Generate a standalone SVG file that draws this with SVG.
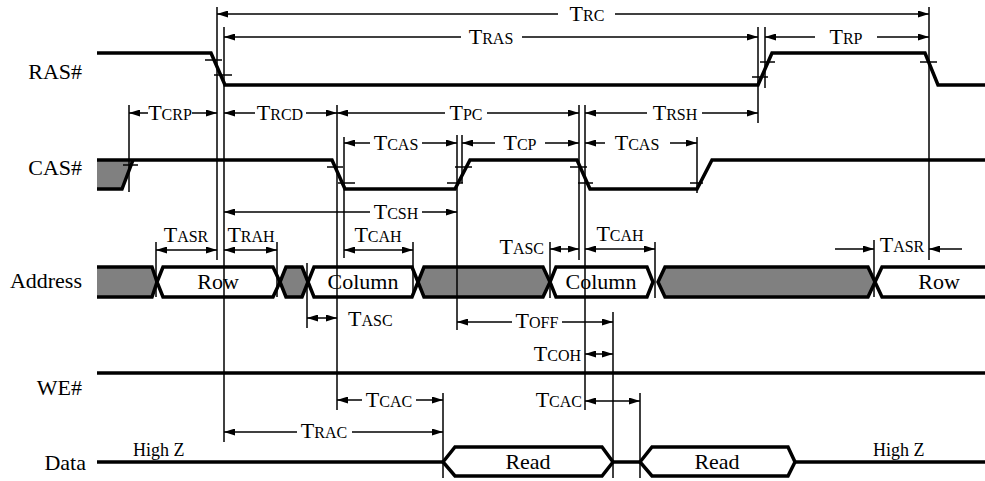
<svg xmlns="http://www.w3.org/2000/svg" width="985" height="481" viewBox="0 0 985 481">
<style>
  .sig{fill:none;stroke:#000;stroke-width:3.5;stroke-linejoin:miter}
  .gray{fill:#808080;stroke:none}
  .hex{fill:#fff;stroke:#000;stroke-width:3.5}
  .ghex{fill:#808080;stroke:#000;stroke-width:3.5}
  .tick{stroke:#000;stroke-width:1.5}
  .ext{stroke:#000;stroke-width:1.5}
  .dim{fill:none;stroke:#000;stroke-width:1.5;marker-end:url(#ah)}
  text{font-family:"Liberation Serif","Times New Roman",serif;fill:#000}
  .lbl{font-size:22px;text-anchor:end}
  .t{font-size:22px}
  .s{font-size:16px}
  .c{text-anchor:middle}
  .e{text-anchor:end}
  .hz{font-size:18px}
</style>
<defs>
  <marker id="ah" viewBox="0 0 11 7" refX="11" refY="3.5" markerWidth="11" markerHeight="7" markerUnits="userSpaceOnUse" orient="auto">
    <path d="M0,0 L11,3.5 L0,7 z" fill="#000"/>
  </marker>
</defs>
<rect width="985" height="481" fill="#fff"/>

<g id="labels">
  <text class="lbl" x="82" y="79">RAS#</text>
  <text class="lbl" x="82" y="175">CAS#</text>
  <text class="lbl" x="82" y="288">Address</text>
  <text class="lbl" x="82" y="395">WE#</text>
  <text class="lbl" x="86" y="470">Data</text>
</g>

<g id="ras">
  <polyline class="sig" points="97,53 211,53 225,85 758,85 772,53 925,53 938,85 985,85"/>
  <line class="tick" x1="205" y1="60" x2="222" y2="60"/>
  <line class="tick" x1="214" y1="75" x2="232" y2="75"/>
  <line class="tick" x1="752" y1="77" x2="768" y2="77"/>
  <line class="tick" x1="760" y1="62" x2="775" y2="62"/>
  <line class="tick" x1="920" y1="62" x2="937" y2="62"/>
</g>

<g id="cas">
  <polygon class="gray" points="97,160 133,160 122,189 97,189"/>
  <polyline class="sig" points="97,160 332,160 345,189 455,189 470,160 577,160 590,189 697,189 712,160 985,160"/>
  <polyline class="sig" points="97,189 122,189 133,160"/>
  <line class="tick" x1="123" y1="165" x2="138" y2="165"/>
  <line class="tick" x1="327" y1="167" x2="343" y2="167"/>
  <line class="tick" x1="338" y1="183" x2="355" y2="183"/>
  <line class="tick" x1="447" y1="183" x2="463" y2="183"/>
  <line class="tick" x1="455" y1="167" x2="472" y2="167"/>
  <line class="tick" x1="570" y1="167" x2="587" y2="167"/>
  <line class="tick" x1="578" y1="183" x2="593" y2="183"/>
  <line class="tick" x1="690" y1="183" x2="703" y2="183"/>
</g>

<g id="address">
  <polygon class="gray" points="97,267 152,267 157,282 152,297 97,297"/>
  <polyline class="sig" points="97,267 152,267 157,282 152,297 97,297"/>
  <polygon class="hex" points="157,282 163,267 273,267 280,282 273,297 163,297"/>
  <text class="t c" x="218" y="289">Row</text>
  <polygon class="ghex" points="280,282 286,267 302,267 308,282 302,297 286,297"/>
  <polygon class="hex" points="308,282 314,267 412,267 418,282 412,297 314,297"/>
  <text class="t c" x="363" y="289">Column</text>
  <polygon class="ghex" points="418,282 424,267 543,267 550,282 543,297 424,297"/>
  <polygon class="hex" points="550,282 556,267 647,267 653,282 647,297 556,297"/>
  <text class="t c" x="601" y="289">Column</text>
  <polygon class="ghex" points="658,282 665,267 868,267 875,282 868,297 665,297"/>
  <polygon class="hex" points="875,282 882,267 992,267 992,297 882,297"/>
  <text class="t c" x="939" y="289">Row</text>
</g>

<g id="we">
  <line class="sig" x1="97" y1="373" x2="985" y2="373"/>
</g>

<g id="data">
  <polyline class="sig" points="97,462 443,462"/>
  <polygon class="hex" points="443,462 455,447 602,447 613,462 602,476 455,476"/>
  <text class="t c" x="528" y="469">Read</text>
  <line class="sig" x1="613" y1="462" x2="640" y2="462"/>
  <polygon class="hex" points="640,462 652,447 788,447 795,462 788,476 652,476"/>
  <text class="t c" x="717" y="469">Read</text>
  <line class="sig" x1="795" y1="462" x2="985" y2="462"/>
  <text class="hz" x="133" y="456">High Z</text>
  <text class="hz" x="873" y="456">High Z</text>
</g>

<g id="connectors">
  <g id="extension-lines">
    <line class="ext" x1="217" y1="7" x2="217" y2="260"/>
    <line class="ext" x1="224" y1="27" x2="224" y2="442"/>
    <line class="ext" x1="758" y1="27" x2="758" y2="123"/>
    <line class="ext" x1="765" y1="27" x2="765" y2="88"/>
    <line class="ext" x1="929" y1="7" x2="929" y2="260"/>
    <line class="ext" x1="129" y1="105" x2="129" y2="192"/>
    <line class="ext" x1="337" y1="105" x2="337" y2="410"/>
    <line class="ext" x1="344" y1="137" x2="344" y2="258"/>
    <line class="ext" x1="457" y1="135" x2="457" y2="330"/>
    <line class="ext" x1="462" y1="135" x2="462" y2="183"/>
    <line class="ext" x1="579" y1="105" x2="579" y2="260"/>
    <line class="ext" x1="585" y1="105" x2="585" y2="410"/>
    <line class="ext" x1="697" y1="137" x2="697" y2="193"/>
    <line class="ext" x1="156" y1="242" x2="156" y2="297"/>
    <line class="ext" x1="277" y1="242" x2="277" y2="297"/>
    <line class="ext" x1="307" y1="263" x2="307" y2="328"/>
    <line class="ext" x1="413" y1="242" x2="413" y2="297"/>
    <line class="ext" x1="550" y1="242" x2="550" y2="298"/>
    <line class="ext" x1="655" y1="242" x2="655" y2="298"/>
    <line class="ext" x1="874" y1="240" x2="874" y2="297"/>
    <line class="ext" x1="613" y1="312" x2="613" y2="478"/>
    <line class="ext" x1="443" y1="393" x2="443" y2="478"/>
    <line class="ext" x1="640" y1="393" x2="640" y2="478"/>
  </g>
  <g id="dimensions">
    <path class="dim" d="M558,14 H217"/><path class="dim" d="M615,14 H929"/>
    <path class="dim" d="M461,37 H224"/><path class="dim" d="M522,37 H758"/>
    <path class="dim" d="M815,37 H765"/><path class="dim" d="M877,37 H929"/>
    <path class="dim" d="M148,113 H129"/><path class="dim" d="M192,113 H217"/>
    <path class="dim" d="M255,113 H224"/><path class="dim" d="M306,113 H337"/>
    <path class="dim" d="M445,113 H337"/><path class="dim" d="M487,113 H579"/>
    <path class="dim" d="M647,113 H585"/><path class="dim" d="M702,113 H758"/>
    <path class="dim" d="M370,143 H344"/><path class="dim" d="M422,143 H457"/>
    <path class="dim" d="M495,143 H462"/><path class="dim" d="M545,143 H579"/>
    <path class="dim" d="M605,143 H585"/><path class="dim" d="M670,143 H697"/>
    <path class="dim" d="M370,212 H224"/><path class="dim" d="M422,212 H457"/>
    <path class="dim" d="M186,250 H156"/><path class="dim" d="M186,250 H217"/>
    <path class="dim" d="M250,250 H224"/><path class="dim" d="M250,250 H277"/>
    <path class="dim" d="M378,250 H344"/><path class="dim" d="M378,250 H413"/>
    <path class="dim" d="M321,318 H307"/><path class="dim" d="M321,318 H337"/>
    <path class="dim" d="M565,249 H550"/><path class="dim" d="M565,249 H579"/>
    <path class="dim" d="M620,249 H585"/><path class="dim" d="M620,249 H655"/>
    <path class="dim" d="M835,249 H874"/><path class="dim" d="M962,249 H929"/>
    <path class="dim" d="M512,322 H457"/><path class="dim" d="M562,322 H613"/>
    <path class="dim" d="M600,354 H585"/><path class="dim" d="M600,354 H613"/>
    <path class="dim" d="M362,400 H337"/><path class="dim" d="M416,400 H443"/>
    <path class="dim" d="M612,401 H585"/><path class="dim" d="M612,401 H640"/>
    <path class="dim" d="M297,432 H224"/><path class="dim" d="M352,432 H443"/>
  </g>
  <g id="dimension-labels">
    <text class="t c" x="587" y="21">T<tspan class="s">RC</tspan></text>
    <text class="t c" x="491" y="44">T<tspan class="s">RAS</tspan></text>
    <text class="t c" x="846" y="44">T<tspan class="s">RP</tspan></text>
    <text class="t c" x="170" y="120">T<tspan class="s">CRP</tspan></text>
    <text class="t c" x="280" y="120">T<tspan class="s">RCD</tspan></text>
    <text class="t c" x="466" y="120">T<tspan class="s">PC</tspan></text>
    <text class="t c" x="675" y="120">T<tspan class="s">RSH</tspan></text>
    <text class="t c" x="396" y="150">T<tspan class="s">CAS</tspan></text>
    <text class="t c" x="520" y="150">T<tspan class="s">CP</tspan></text>
    <text class="t c" x="637" y="150">T<tspan class="s">CAS</tspan></text>
    <text class="t c" x="396" y="219">T<tspan class="s">CSH</tspan></text>
    <text class="t c" x="186" y="242">T<tspan class="s">ASR</tspan></text>
    <text class="t c" x="251" y="242">T<tspan class="s">RAH</tspan></text>
    <text class="t c" x="378" y="242">T<tspan class="s">CAH</tspan></text>
    <text class="t" x="348" y="326">T<tspan class="s">ASC</tspan></text>
    <text class="t e" x="544" y="254">T<tspan class="s">ASC</tspan></text>
    <text class="t c" x="620" y="241">T<tspan class="s">CAH</tspan></text>
    <text class="t c" x="902" y="252">T<tspan class="s">ASR</tspan></text>
    <text class="t c" x="537" y="328">T<tspan class="s">OFF</tspan></text>
    <text class="t e" x="581" y="361">T<tspan class="s">COH</tspan></text>
    <text class="t c" x="389" y="407">T<tspan class="s">CAC</tspan></text>
    <text class="t e" x="582" y="407">T<tspan class="s">CAC</tspan></text>
    <text class="t c" x="324" y="438">T<tspan class="s">RAC</tspan></text>
  </g>
</g>
</svg>
